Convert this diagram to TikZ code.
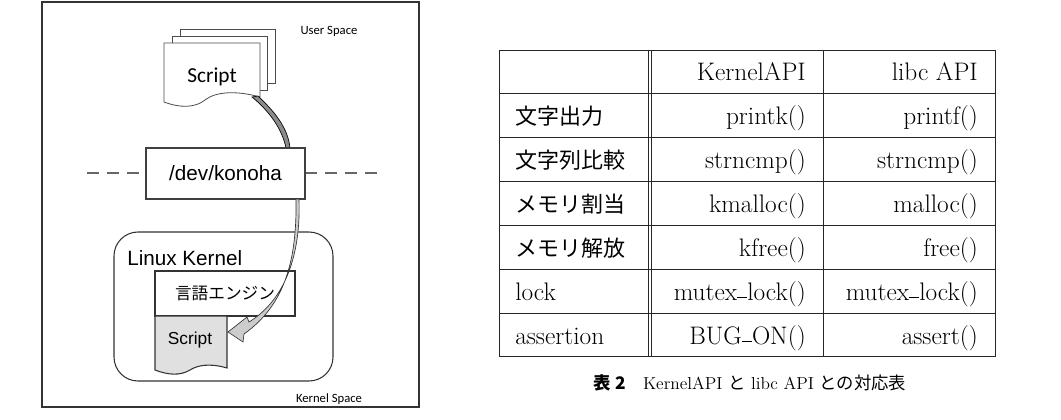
\documentclass[tikz,border=0pt]{standalone}
\usepackage{fontspec}
\newfontfamily\cjk{Noto Sans CJK JP}
\newfontfamily\carfont{Carlito}
\newfontfamily\ari{Liberation Sans}
\begin{document}
\begin{tikzpicture}[x=0.75pt,y=-0.75pt,
  tt/.style={inner sep=0pt,font=\fontsize{19}{21}\selectfont},
  lc/.style={tt,anchor=base west},
  rc/.style={tt,anchor=base east},
  jc/.style={lc,font=\cjk\fontsize{16.5}{18}\selectfont},
  page/.style={draw=black!70,fill=white,line width=0.6pt}]
\useasboundingbox (0,0) rectangle (1061,419);
% left frame
\draw[black!80,line width=1pt] (42,2) rectangle (419,407);
\node[font=\carfont\fontsize{9.5}{11}\selectfont] (us) at (329,31) {User Space};
% script stack
\draw[page] (180,29) -- (275,29) -- (275,83) -- (180,83) -- cycle;
\draw[page] (172,36) -- (267,36) -- (267,90) -- (172,90) -- cycle;
\draw[page] (164,43) -- (260,43) -- (260,97) .. controls (235,90) and (215,92) .. (205,100) .. controls (195,108) and (180,108) .. (164,102) -- cycle;
\node[font=\carfont\fontsize{16}{18}\selectfont] (s1) at (212,77) {Script};
% upper arrow band
\draw[fill=black!45,line width=0.5pt] (258,96) .. controls (275,112) and (288,128) .. (290,148) -- (286,148) .. controls (282,128) and (268,110) .. (252,97) -- cycle;
% dashed line
\draw[dash pattern=on 9pt off 6pt,black!60,line width=1pt] (87,173) -- (146,173);
\draw[dash pattern=on 9pt off 6pt,black!60,line width=1pt] (305,173) -- (378,173);
\node[draw=black!75,line width=0.8pt,fill=white,minimum width=159*0.75pt,minimum height=51*0.75pt,inner sep=0pt,font=\ari\fontsize{15.5}{17}\selectfont] (dev) at (225.5,173.5) {/dev/konoha};
% kernel
\draw[black!80,line width=0.8pt,rounded corners=18pt] (114,232) rectangle (333,381);
\node[anchor=west,inner sep=0pt,font=\ari\fontsize{15.5}{17}\selectfont] (lk) at (127,258) {Linux Kernel};
\node[draw=black!80,line width=0.8pt,fill=white,minimum width=140*0.75pt,minimum height=45*0.75pt,inner sep=0pt,font=\cjk\fontsize{12.5}{14}\selectfont] (eng) at (225,293.5) {言語エンジン};
\draw[fill=black!12,draw=black!80,line width=0.8pt] (155,316) -- (227,316) -- (227,368) .. controls (210,363) and (198,365) .. (190,370) .. controls (180,376) and (168,375) .. (155,370) -- cycle;
\node[font=\ari\fontsize{13}{15}\selectfont] (s2) at (190,340) {Script};
\node[font=\carfont\fontsize{9.5}{11}\selectfont,anchor=north] (ks) at (329,389) {Kernel Space};
% lower arrow
\draw[fill=black!20,draw=black!80,line width=0.5pt] (299,199) .. controls (301,255) and (285,300) .. (249,322) -- (247,317) -- (228,332) -- (243,342) -- (244,334) .. controls (285,305) and (297,260) .. (296,199) -- cycle;
% table
\begin{scope}[line width=0.7pt,black!85]
\draw (499,50) rectangle (995,356);
\foreach \y in {93,137,181,225,269,313} \draw (499,\y) -- (995,\y);
\draw (648,50) -- (648,356);
\draw (651,50) -- (651,356);
\draw (823,50) -- (823,356);
\end{scope}
\node[rc] (h1) at (806,80) {KernelAPI};
\node[rc] (h2) at (978,80) {libc API};
\node[jc] (r1) at (515,124) {文字出力};
\node[rc] (a1) at (806,124) {printk()};
\node[rc] (b1) at (978,124) {printf()};
\node[jc] (r2) at (515,168) {文字列比較};
\node[rc] (a2) at (806,168) {strncmp()};
\node[rc] (b2) at (978,168) {strncmp()};
\node[jc] (r3) at (515,212) {メモリ割当};
\node[rc] (a3) at (806,212) {kmalloc()};
\node[rc] (b3) at (978,212) {malloc()};
\node[jc] (r4) at (515,256) {メモリ解放};
\node[rc] (a4) at (806,256) {kfree()};
\node[rc] (b4) at (978,256) {free()};
\node[lc] (r5) at (515,300) {lock};
\node[rc] (a5) at (806,300) {mutex\rule[0.2ex]{0.4em}{0.04em}lock()};
\node[rc] (b5) at (978,300) {mutex\rule[0.2ex]{0.4em}{0.04em}lock()};
\node[lc] (r6) at (515,344) {assertion};
\node[rc] (a6) at (806,344) {BUG\rule[0.2ex]{0.4em}{0.04em}ON()};
\node[rc] (b6) at (978,344) {assert()};
\node[inner sep=0pt,font=\fontsize{13}{15}\selectfont] (cap) at (750,383) {{\cjk\bfseries 表 2}\quad KernelAPI {\cjk と} libc API {\cjk との対応表}};
\end{tikzpicture}
\end{document}
